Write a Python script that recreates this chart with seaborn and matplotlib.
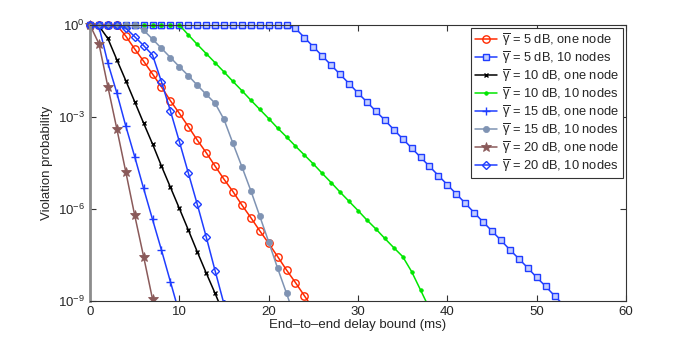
import numpy as np
import pandas as pd
import matplotlib
matplotlib.use("Agg")
import matplotlib.pyplot as plt
import seaborn as sns
from matplotlib.ticker import NullLocator

# ---- data: log10 of violation probability at integer delay bounds (ms), starting at 0 ----
log_5db_one = [0, 0, 0, 0, -0.36, -0.78, -1.18, -1.6, -2.02, -2.47, -2.88, -3.31, -3.75,
               -4.16, -4.6, -5.03, -5.43, -5.87, -6.28, -6.71, -7.12, -7.55, -7.99, -8.4,
               -8.83, -9.26]
log_5db_ten = [0] * 23 + [-0.11, -0.41, -0.71, -1.01, -1.31, -1.61, -1.91, -2.22, -2.51,
                          -2.81, -3.1, -3.41, -3.71, -4.01, -4.31, -4.61, -4.91, -5.21,
                          -5.51, -5.81, -6.12, -6.42, -6.72, -7.02, -7.33, -7.62, -7.92,
                          -8.23, -8.52, -8.83, -9.13]
log_10db_one = [0, -0.03, -0.44, -1.13, -1.81, -2.5, -3.2, -3.88, -4.6, -5.29, -5.98,
                -6.68, -7.39, -8.08, -8.75, -9.45]
log_10db_ten = [0] * 11 + [-0.32, -0.63, -0.93, -1.23, -1.53, -1.84, -2.14, -2.45, -2.75,
                           -3.05, -3.36, -3.65, -3.95, -4.24, -4.53, -4.84, -5.14, -5.45,
                           -5.75, -6.05, -6.36, -6.65, -6.96, -7.26, -7.55, -8.04, -8.64,
                           -9.25]
log_15db_one = [0, -0.05, -1.24, -2.21, -3.29, -4.29, -5.33, -6.34, -7.34, -8.37, -9.4]
log_15db_ten = [0, 0, 0, 0, 0, 0, -0.17, -0.46, -0.76, -1.06, -1.36, -1.65, -1.96, -2.26,
                -2.55, -3.08, -3.86, -4.62, -5.4, -6.23, -7.07, -7.93, -8.75, -9.6]
log_20db_one = [0, -0.61, -2.01, -3.38, -4.78, -6.2, -7.55, -8.94, -10.3]
log_20db_ten = [0, 0, 0, 0, -0.1, -0.38, -0.67, -0.98, -1.85, -2.8, -3.8, -4.82, -5.84,
                -6.9, -8.01, -9.1]

labels = [
    r"$\overline{\mathrm{\gamma}}$ = 5 dB, one node",
    r"$\overline{\mathrm{\gamma}}$ = 5 dB, 10 nodes",
    r"$\overline{\mathrm{\gamma}}$ = 10 dB, one node",
    r"$\overline{\mathrm{\gamma}}$ = 10 dB, 10 nodes",
    r"$\overline{\mathrm{\gamma}}$ = 15 dB, one node",
    r"$\overline{\mathrm{\gamma}}$ = 15 dB, 10 nodes",
    r"$\overline{\mathrm{\gamma}}$ = 20 dB, one node",
    r"$\overline{\mathrm{\gamma}}$ = 20 dB, 10 nodes",
]
series = [log_5db_one, log_5db_ten, log_10db_one, log_10db_ten,
          log_15db_one, log_15db_ten, log_20db_one, log_20db_ten]

x_ticks = [0, 10, 20, 30, 40, 50, 60]
y_ticks = [1e0, 1e-3, 1e-6, 1e-9]

# ---- styles ----
styles = [
    dict(color="#ff2a00", marker="o", markersize=5.3, markerfacecolor="none", markeredgewidth=1.0),
    dict(color="#1f3dff", marker="s", markersize=4.2, markerfacecolor="#c4ceff", markeredgewidth=1.0),
    dict(color="#000000", marker="x", markersize=3.5, markeredgewidth=1.0),
    dict(color="#00e600", marker="o", markersize=2.6, markeredgewidth=0.5),
    dict(color="#1f3dff", marker="+", markersize=6, markeredgewidth=1.0),
    dict(color="#7f93b3", marker="o", markersize=4.5, markeredgewidth=0.5),
    dict(color="#8a5a5a", marker="*", markersize=7.5, markeredgewidth=0.6),
    dict(color="#1f3dff", marker="D", markersize=3.8, markerfacecolor="none", markeredgewidth=1.0),
]

sns.set_style("ticks")
plt.rcParams["font.family"] = ["Liberation Sans", "DejaVu Sans"]
plt.rcParams["mathtext.fontset"] = "custom"
plt.rcParams["mathtext.rm"] = "Liberation Sans"
plt.rcParams["mathtext.default"] = "regular"

fig = plt.figure(figsize=(6.92, 3.39), dpi=100)
ax = fig.add_axes([90 / 692, 38 / 339, 536 / 692, 276 / 339])

ymin, ymax = 1e-9, 1.0
for lab, vals, st in zip(labels, series, styles):
    df = pd.DataFrame({"x": np.arange(len(vals)), "p": 10.0 ** np.array(vals, dtype=float)})
    st = dict(st)
    color = st.pop("color")
    # line with markers (clipped to the axes)
    sns.lineplot(data=df, x="x", y="p", ax=ax, color=color, label=lab, linewidth=1.1,
                 markeredgecolor=color, **st)
    # markers lying on the top edge drawn unclipped, as in the original
    top = df[df["p"] >= ymax * 0.999]
    if len(top):
        sns.lineplot(data=top, x="x", y="p", ax=ax, color=color, linestyle="",
                     markeredgecolor=color, clip_on=False, legend=False, **st)

ax.set_yscale("log")
ax.set_xlim(0, 60)
ax.set_ylim(ymin, ymax)
ax.set_xticks(x_ticks)
ax.set_yticks(y_ticks)
ax.yaxis.set_minor_locator(NullLocator())
ax.tick_params(axis="both", which="both", direction="in", top=True, right=True,
               length=4, width=0.8, labelsize=9.5, color="#333333")
ax.set_xlabel("End\u2013to\u2013end delay bound (ms)", fontsize=9.5, labelpad=1)
ax.set_ylabel("Violation probability", fontsize=9.5, labelpad=4)

for s in ["top", "right", "bottom"]:
    ax.spines[s].set_color("#333333")
    ax.spines[s].set_linewidth(0.8)
ax.spines["left"].set_color("#8c8c8c")
ax.spines["left"].set_linewidth(2)

leg = ax.legend(loc="upper right", bbox_to_anchor=(0.994, 0.989), borderaxespad=0,
                fontsize=9.3, frameon=True, fancybox=False, framealpha=1,
                edgecolor="#333333", handlelength=1.7, labelspacing=0.12,
                handletextpad=0.4, borderpad=0.3)
leg.get_frame().set_linewidth(0.8)

fig.savefig("out.png", dpi=100)
